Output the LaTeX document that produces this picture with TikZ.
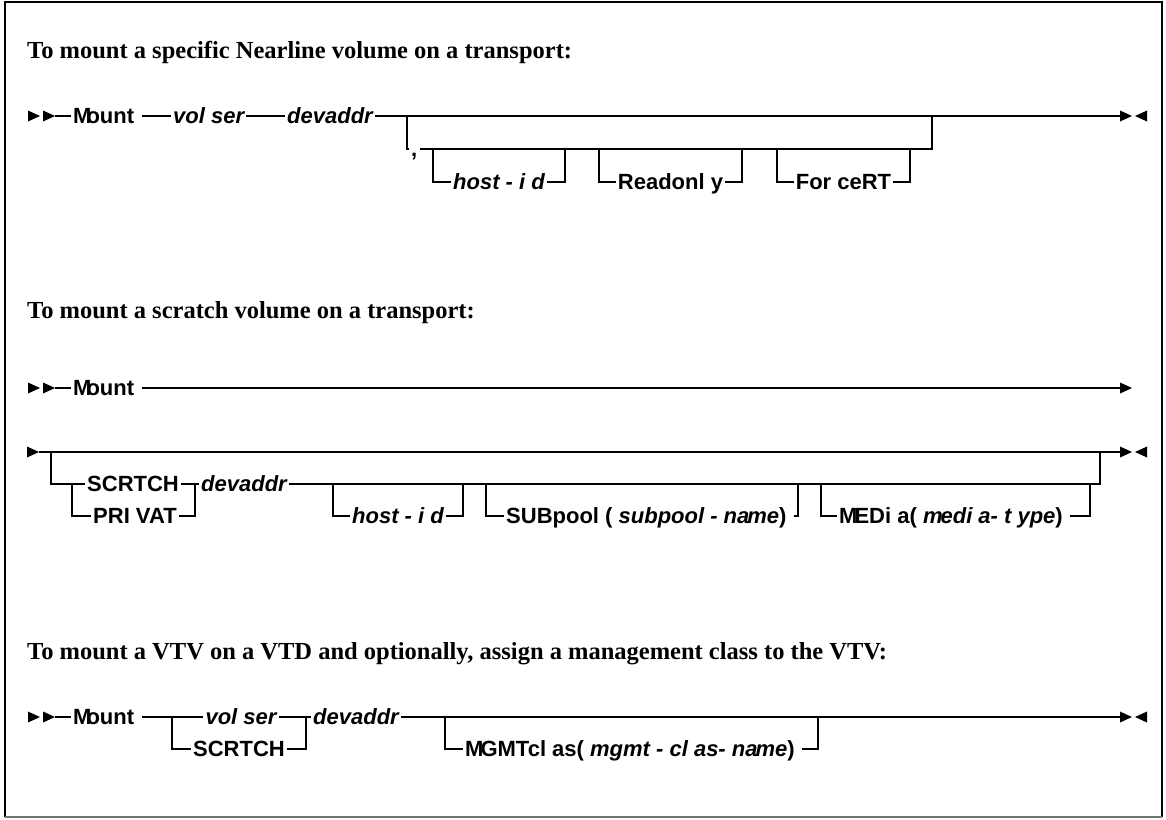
\documentclass[tikz,border=0pt]{standalone}
\usepackage{fontspec}
\setmainfont{Liberation Serif}
\setsansfont{Liberation Sans}
\usetikzlibrary{calc}
\newcommand\rtri[2]{\fill ({#1},{#2-5.5}) -- ({#1+12},{#2}) -- ({#1},{#2+5.5}) -- cycle;}
\newcommand\ltri[2]{\fill ({#1+12},{#2-5.5}) -- ({#1},{#2}) -- ({#1+12},{#2+5.5}) -- cycle;}
\begin{document}
\begin{tikzpicture}[x=1pt,y=-1pt,
  rail/.style={line width=1.6pt},
  kw/.style={font=\sffamily\bfseries\fontsize{22}{24}\selectfont, inner xsep=2pt, inner ysep=0pt, text height=15.5pt, text depth=0pt},
  kwl/.style={kw, anchor=west},
  ttl/.style={font=\bfseries\fontsize{24.5}{28}\selectfont, anchor=base west, inner sep=0pt}]
\useasboundingbox (0,0) rectangle (1166,819);
\draw[line width=1.3pt] (5,817) -- (5,2) -- (1162,2) -- (1162,817);
\draw[line width=1.3pt, black!55] (5,817) -- (1162,817);

% ---------- diagram 1
\node[ttl] (t1) at (27,58) {To mount a specific Nearline volume on a transport:};
\rtri{28}{116}\rtri{43}{116}
\coordinate (a1) at (55,116);
\node[kwl] (m1) at (71,116) {M\kern-5pt ount};
\node[kwl] (v1) at (171,116) {\itshape vol ser};
\node[kwl] (d1) at (285,116) {\itshape devaddr};
\coordinate (L1) at (407,116); \coordinate (L1b) at (407,149);
\coordinate (R1) at (932,116); \coordinate (R1b) at (932,149);
\coordinate (e1) at (1120,116);
\draw[rail] (a1) -- (m1.west);
\draw[rail] ([xshift=6pt]m1.east) -- (v1.west);
\draw[rail] (v1.east) -- (d1.west);
\draw[rail] (d1.east) -- (e1);
\rtri{1120}{116}\ltri{1135}{116}
\node[kwl] (c1) at (409,149) {,};
\draw[rail] (L1) -- (L1b) -- (c1.west);
\draw[rail] (c1.east) -- (R1b) -- (R1);
% host-id
\coordinate (h1a) at (433,149); \coordinate (h1b) at (433,182);
\coordinate (h1c) at (565,182); \coordinate (h1d) at (565,149);
\node[kw] (h1) at ($(h1b)!0.5!(h1c)$) {\itshape host - i d};
\draw[rail] (h1a) -- (h1b) -- (h1.west); \draw[rail] (h1.east) -- (h1c) -- (h1d);
% Readonly
\coordinate (r1a) at (599,149); \coordinate (r1b) at (599,182);
\coordinate (r1c) at (742,182); \coordinate (r1d) at (742,149);
\node[kw] (ro1) at ($(r1b)!0.5!(r1c)$) {Readonl y};
\draw[rail] (r1a) -- (r1b) -- (ro1.west); \draw[rail] (ro1.east) -- (r1c) -- (r1d);
% ForceRT
\coordinate (f1a) at (777,149); \coordinate (f1b) at (777,182);
\coordinate (f1c) at (910,182); \coordinate (f1d) at (910,149);
\node[kw] (fr1) at ($(f1b)!0.5!(f1c)$) {For ceRT};
\draw[rail] (f1a) -- (f1b) -- (fr1.west); \draw[rail] (fr1.east) -- (f1c) -- (f1d);

% ---------- diagram 2
\node[ttl] (t2) at (27,318) {To mount a scratch volume on a transport:};
\rtri{28}{388}\rtri{43}{388}
\coordinate (a2) at (55,388);
\node[kwl] (m2) at (71,388) {M\kern-5pt ount};
\coordinate (e2) at (1120,388);
\draw[rail] (a2) -- (m2.west);
\draw[rail] ([xshift=6pt]m2.east) -- (e2);
\rtri{1120}{388}

\rtri{27}{452}
\coordinate (a3) at (39,452); \coordinate (e3) at (1120,452);
\draw[rail] (a3) -- (e3);
\rtri{1120}{452}\ltri{1135}{452}
\coordinate (o1) at (51,452); \coordinate (o1b) at (51,484);
\node[kwl] (sc2) at (85,484) {SCRTCH};
\coordinate (ch1) at (72,484); \coordinate (ch1b) at (72,516);
\node[kwl] (pv2) at (91,516) {PRI VAT};
\coordinate (ch2) at (195,484); \coordinate (ch2b) at (195,516);
\node[kwl] (dv2) at (199,484) {\itshape devaddr};
\coordinate (o2) at (1100,484); \coordinate (o2a) at (1100,452);
\draw[rail] (o1) -- (o1b) -- (sc2.west);
\draw[rail] (sc2.east) -- (ch2) -- (dv2.west);
\draw[rail] (ch1) -- (ch1b) -- (pv2.west);
\draw[rail] (pv2.east) -- (ch2b) -- (ch2);
\draw[rail] (dv2.east) -- (o2) -- (o2a);
% host-id
\coordinate (h2a) at (333,484); \coordinate (h2b) at (333,516);
\coordinate (h2c) at (463,516); \coordinate (h2d) at (463,484);
\node[kw] (h2) at ($(h2b)!0.5!(h2c)$) {\itshape host - i d};
\draw[rail] (h2a) -- (h2b) -- (h2.west); \draw[rail] (h2.east) -- (h2c) -- (h2d);
% SUBpool
\coordinate (s2a) at (486,484); \coordinate (s2b) at (486,516);
\coordinate (s2c) at (798,516); \coordinate (s2d) at (798,484);
\node[kwl] (sp2) at (504,516) {SUBpool ( \textit{subpool - na\kern-2pt me})};
\draw[rail] (s2a) -- (s2b) -- (sp2.west); \draw[rail] ([xshift=5pt]sp2.east) -- (s2c) -- (s2d);
% MEDia
\coordinate (md2a) at (821,484); \coordinate (md2b) at (821,516);
\coordinate (md2c) at (1090,516); \coordinate (md2d) at (1090,484);
\node[kwl] (me2) at (837,516) {M\kern-3pt EDi a( \textit{m\kern-2pt edi a- t ype})};
\draw[rail] (md2a) -- (md2b) -- (me2.west); \draw[rail] ([xshift=5pt]me2.east) -- (md2c) -- (md2d);

% ---------- diagram 3
\node[ttl] (t3) at (27,659) {To mount a VTV on a VTD and optionally, assign a management class to the VTV:};
\rtri{28}{717}\rtri{43}{717}
\coordinate (a4) at (55,717);
\node[kwl] (m3) at (71,717) {M\kern-5pt ount};
\coordinate (x1) at (172,717); \coordinate (x1b) at (172,749);
\coordinate (x2) at (306,717); \coordinate (x2b) at (306,749);
\node[kw] (vs3) at (241,717) {\itshape vol ser};
\node[kw] (sc3) at (239,749) {SCRTCH};
\node[kwl] (dv3) at (311,717) {\itshape devaddr};
\coordinate (e4) at (1120,717);
\draw[rail] (a4) -- (m3.west);
\draw[rail] ([xshift=6pt]m3.east) -- (vs3.west);
\draw[rail] (vs3.east) -- (x2) -- (dv3.west);
\draw[rail] (x1) -- (x1b) -- (sc3.west);
\draw[rail] (sc3.east) -- (x2b) -- (x2);
\draw[rail] (dv3.east) -- (e4);
\rtri{1120}{717}\ltri{1135}{717}
\coordinate (g1) at (445,717); \coordinate (g1b) at (445,749);
\node[kwl] (mg3) at (463,749) {M\kern-3pt GMTcl as( \textit{mgmt - cl as- na\kern-2pt me})};
\draw[rail] (g1) -- (g1b) -- (mg3.west);
\draw[rail] ([xshift=5pt]mg3.east) -- ++(16,0) coordinate (g2b) -- (g2b |- g1);
\end{tikzpicture}
\end{document}
